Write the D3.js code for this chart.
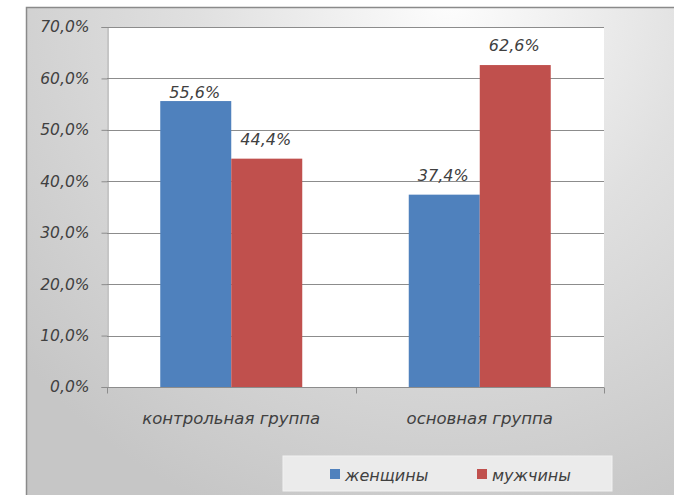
<!DOCTYPE html>
<html>
<head>
<meta charset="utf-8">
<script src="https://cdn.jsdelivr.net/npm/d3@7/dist/d3.min.js"></script>
<style>
  html, body { margin: 0; padding: 0; background: #ffffff; }
  svg { display: block; }
  text { font-family: "DejaVu Sans", Verdana, sans-serif; font-style: italic; fill: #404040; }
</style>
</head>
<body>
<svg id="chart" width="674" height="495"></svg>
<script>
// Share of women and men in the control and main groups
const categories = ["контрольная группа", "основная группа"];
const seriesNames = ["женщины", "мужчины"];
const women = [55.6, 37.4];
const men = [44.4, 62.6];
const yTicks = [0, 10, 20, 30, 40, 50, 60, 70];

const colors = { "женщины": "#4F81BD", "мужчины": "#C0504D" };
const fmt = v => d3.format(".1f")(v).replace(".", ",") + "%";

const svg = d3.select("#chart");
const W = 674, H = 495;

// chart area with soft grey gradient
const defs = svg.append("defs");
const grad = defs.append("radialGradient")
  .attr("id", "bg").attr("gradientUnits", "userSpaceOnUse")
  .attr("cx", 450).attr("cy", 0).attr("r", 560);
grad.append("stop").attr("offset", 0).attr("stop-color", "#fdfdfd");
grad.append("stop").attr("offset", 0.45).attr("stop-color", "#e0e0e0");
grad.append("stop").attr("offset", 1).attr("stop-color", "#c6c6c6");

const frame = { x: 26, y: 7 };
svg.append("rect").attr("x", frame.x).attr("y", frame.y)
  .attr("width", W - frame.x).attr("height", H - frame.y)
  .attr("fill", "url(#bg)");
svg.append("path")
  .attr("d", `M${frame.x + 0.5},${H} V${frame.y + 0.5} H${W}`)
  .attr("fill", "none").attr("stroke", "#8a8a8a").attr("stroke-width", 1.5);

// plot area
const plot = { left: 107, right: 604, top: 27, bottom: 387 };
const y = d3.scaleLinear().domain([0, 70]).range([plot.bottom, plot.top]);
const x0 = d3.scaleBand().domain(categories).range([plot.left, plot.right]).paddingInner(0).paddingOuter(0);
const x1 = d3.scaleBand().domain(seriesNames).range([0, x0.bandwidth()]).paddingInner(0).paddingOuter(0.75);

svg.append("rect").attr("x", plot.left).attr("y", plot.top)
  .attr("width", plot.right - plot.left).attr("height", plot.bottom - plot.top)
  .attr("fill", "#ffffff");

// horizontal gridlines
svg.append("g").selectAll("line").data(yTicks.filter(t => t > 0)).join("line")
  .attr("x1", plot.left).attr("x2", plot.right)
  .attr("y1", d => Math.round(y(d)) + 0.5).attr("y2", d => Math.round(y(d)) + 0.5)
  .attr("stroke", "#8c8c8c").attr("stroke-width", 1);

// bars
const rows = [];
categories.forEach((c, i) => {
  rows.push({ cat: c, series: "женщины", value: women[i] });
  rows.push({ cat: c, series: "мужчины", value: men[i] });
});
svg.append("g").selectAll("rect").data(rows).join("rect")
  .attr("x", d => x0(d.cat) + x1(d.series))
  .attr("width", x1.bandwidth())
  .attr("y", d => y(d.value))
  .attr("height", d => y(0) - y(d.value))
  .attr("fill", d => colors[d.series]);

// y axis
const yAxis = d3.axisLeft(y).tickValues(yTicks).tickFormat(fmt).tickSize(6).tickPadding(12);
const gy = svg.append("g").attr("transform", `translate(${plot.left + 0.5},0)`).call(yAxis);
gy.select(".domain").attr("stroke", "#8c8c8c");
gy.selectAll(".tick line").attr("stroke", "#8c8c8c");
gy.selectAll(".tick text").attr("font-size", 15.5).attr("font-family", null).attr("fill", "#404040");

// x axis with category separators
const gx = svg.append("g").attr("transform", `translate(0,${plot.bottom + 0.5})`);
gx.append("line").attr("x1", plot.left).attr("x2", plot.right)
  .attr("stroke", "#8c8c8c");
const seps = categories.map(c => x0(c)).concat([plot.right]);
gx.selectAll("line.sep").data(seps).join("line").attr("class", "sep")
  .attr("x1", d => Math.round(d) + 0.5).attr("x2", d => Math.round(d) + 0.5)
  .attr("y1", 0).attr("y2", 6).attr("stroke", "#8c8c8c");
gx.selectAll("text").data(categories).join("text")
  .attr("x", d => x0(d) + x0.bandwidth() / 2)
  .attr("y", 36)
  .attr("text-anchor", "middle")
  .attr("font-size", 16.5)
  .text(d => d);

// value labels; the control-group women label sits lower to clear the neighbour
const labelLift = { "контрольная группа|женщины": 3 };
svg.append("g").selectAll("text").data(rows).join("text")
  .attr("x", d => x0(d.cat) + x1(d.series) + x1.bandwidth() / 2 - 1)
  .attr("y", d => y(d.value) - (labelLift[d.cat + "|" + d.series] ?? 14))
  .attr("text-anchor", "middle")
  .attr("font-size", 16)
  .text(d => fmt(d.value));

// legend
const legend = svg.append("g");
legend.append("rect").attr("x", 283).attr("y", 456).attr("width", 329).attr("height", 35)
  .attr("fill", "#ebebeb").attr("stroke", "#f2f2f2");
const items = [{ name: "женщины", x: 330 }, { name: "мужчины", x: 477 }];
const li = legend.selectAll("g.item").data(items).join("g").attr("class", "item")
  .attr("transform", d => `translate(${d.x},469)`);
li.append("rect").attr("width", 10).attr("height", 10).attr("fill", d => colors[d.name]);
li.append("text").attr("x", 15).attr("y", 12).attr("font-size", 16).text(d => d.name);
</script>
</body>
</html>
